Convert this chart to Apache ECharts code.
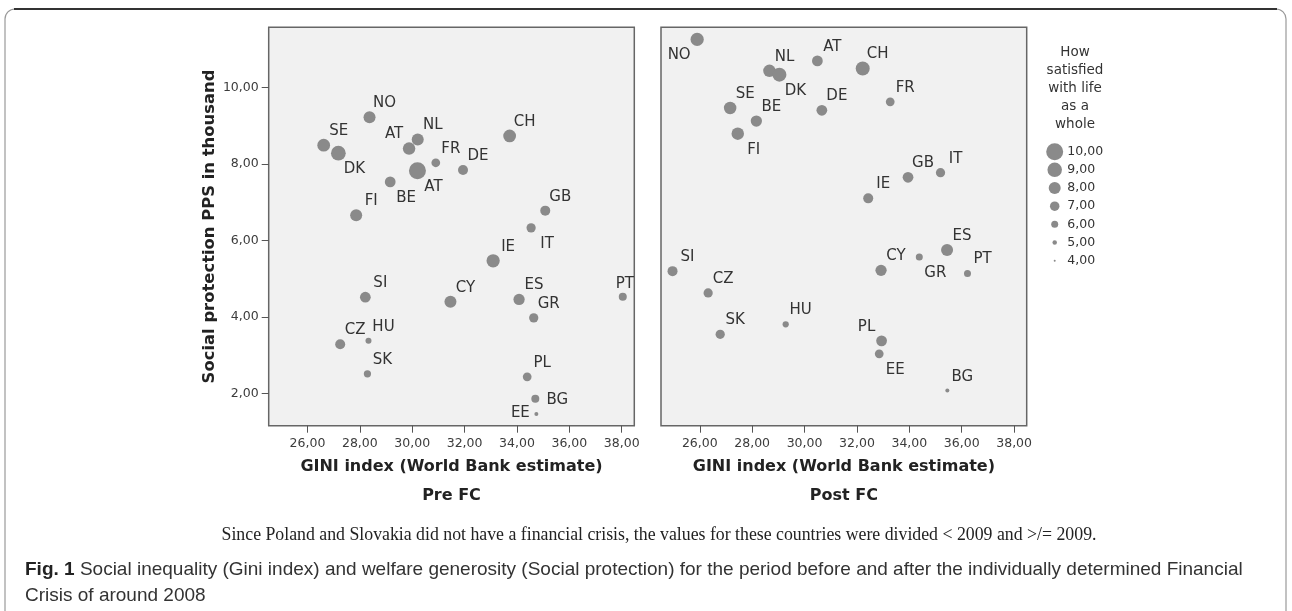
<!DOCTYPE html>
<html><head><meta charset="utf-8">
<script src="https://cdn.jsdelivr.net/npm/echarts@6/dist/echarts.min.js"></script>
<style>html,body{margin:0;padding:0;background:#fff}#c{width:1292px;height:611px}</style>
</head><body><div id="c"></div>
<script>
// ---------- DATA ----------
const countriesPre = ['NO','SE','DK','AT','NL','FR','DE','AT','BE','CH','FI','GB','IT','IE','SI','CY','ES','GR','CZ','HU','SK','PL','BG','EE','PT'];
const giniPre   = [28.37,26.62,27.18,29.88,30.21,30.90,31.94,30.20,29.16,33.72,27.86,35.08,34.54,33.09,28.21,31.46,34.08,34.64,27.25,28.33,28.29,34.39,34.70,34.74,38.04];
const socialPre = [9.22,8.49,8.28,8.40,8.64,8.03,7.84,7.82,7.53,8.73,6.66,6.78,6.33,5.47,4.52,4.40,4.46,3.98,3.29,3.38,2.52,2.44,1.87,1.47,4.53];
const lifePre   = [8.0,8.3,9.1,8.2,8.0,6.7,7.2,10.0,7.5,8.3,8.0,7.2,6.9,8.5,7.5,8.0,7.7,6.9,7.2,5.6,6.1,6.7,6.4,4.8,6.4];

const countriesPost = ['NO','NL','DK','AT','CH','FR','SE','BE','DE','FI','GB','IT','IE','ES','GR','CY','PT','SI','CZ','SK','HU','PL','EE','BG'];
const giniPost   = [25.90,28.66,29.04,30.49,32.22,33.27,27.16,28.16,30.66,27.45,33.95,35.19,32.43,35.44,34.38,32.92,36.22,24.96,26.32,26.78,29.28,32.94,32.85,35.45];
const socialPost = [11.25,10.43,10.33,10.69,10.49,9.62,9.46,9.12,9.40,8.79,7.65,7.77,7.10,5.75,5.57,5.22,5.14,5.20,4.63,3.55,3.81,3.38,3.04,2.08];
const lifePost   = [8.5,8.2,8.8,7.5,8.8,6.7,8.2,7.7,7.5,8.2,7.5,6.9,7.2,8.0,6.0,7.7,6.0,7.2,6.9,6.9,5.7,7.5,6.7,4.8];

const xTicks = [26,28,30,32,34,36,38];
const yTicks = [2,4,6,8,10];
const legendValues = [10,9,8,7,6,5,4];
const panelTitles = ['Pre FC','Post FC'];

// label placement (style, kept apart from data)
const labelPosPre  = ['tr','tr','br','tl','tr','tr','tr','br','br','tr','tr','tr','br','tr','tr','tr','tr','tr','tr','tr','tr','tr','r','l','t'];
const labelPosPost = ['bl','tr','br','tr','tr','tr','tr','tr','tr','br','tr','tr','tr','tr','br','tr','tr','tr','tr','tr','tr','tl','br','tr'];
const offsets = {tr:[15,-14], br:[16,16], tl:[-15,-14], bl:[-18,16], r:[22,1], l:[-16,-1], t:[2,-13]};

// ---------- HELPERS ----------
const fmt = v => v.toFixed(2).replace('.', ',');
const sizeOf = v => 2 + (v - 4) * 2.5;
const SANS = "'DejaVu Sans', sans-serif";
const DOT = '#8a8a8a';

function buildData(names, xs, ys, ls, pos) {
  return names.map((n, i) => ({
    value: [xs[i], ys[i], ls[i]],
    name: n,
    label: { offset: offsets[pos[i]] }
  }));
}

const grids = [
  {left: 268.7, top: 27.3, width: 365.6, height: 398.4},
  {left: 661,   top: 27.3, width: 365.7, height: 398.4}
];

const chart = echarts.init(document.getElementById('c'), null, {renderer: 'canvas'});

const xAxisCommon = (gi) => ({
  type: 'value', gridIndex: gi, min: 24.52, max: 38.48,
  axisLine: {show: false},
  axisTick: {show: true, length: 7, customValues: xTicks, lineStyle: {color: '#555', width: 1}},
  axisLabel: {customValues: xTicks, formatter: fmt, color: '#3c3c3c', fontFamily: SANS, fontSize: 12.5, margin: 12},
  splitLine: {show: false}
});

const pointLabel = {show: true, position: 'inside', formatter: p => p.name, color: '#333',
                    fontFamily: SANS, fontSize: 15, align: 'center', verticalAlign: 'middle'};

const option = {
  animation: false,
  backgroundColor: '#fff',
  grid: [
    Object.assign({show: true, backgroundColor: '#f1f1f1', borderColor: '#666', borderWidth: 1.5}, grids[0]),
    Object.assign({show: true, backgroundColor: '#f1f1f1', borderColor: '#666', borderWidth: 1.5}, grids[1]),
    {left: 1039.7, top: 142.6, width: 30, height: 127.2, show: false}
  ],
  xAxis: [
    xAxisCommon(0), xAxisCommon(1),
    {type: 'value', gridIndex: 2, min: 0, max: 1, show: false}
  ],
  yAxis: [
    {
      type: 'value', gridIndex: 0, min: 1.164, max: 11.567,
      axisLine: {show: false},
      axisTick: {show: true, length: 7, customValues: yTicks, lineStyle: {color: '#555', width: 1}},
      axisLabel: {customValues: yTicks, formatter: fmt, color: '#3c3c3c', fontFamily: SANS, fontSize: 12.5, margin: 10},
      splitLine: {show: false}
    },
    {
      type: 'value', gridIndex: 1, min: 1.164, max: 11.567,
      axisLine: {show: false}, axisTick: {show: false}, axisLabel: {show: false}, splitLine: {show: false}
    },
    {type: 'category', gridIndex: 2, data: legendValues.map(fmt), inverse: true, show: false}
  ],
  series: [
    {
      type: 'scatter', xAxisIndex: 0, yAxisIndex: 0,
      data: buildData(countriesPre, giniPre, socialPre, lifePre, labelPosPre),
      symbolSize: v => sizeOf(v[2]),
      itemStyle: {color: DOT, opacity: 1},
      label: pointLabel,
      emphasis: {disabled: true}
    },
    {
      type: 'scatter', xAxisIndex: 1, yAxisIndex: 1,
      data: buildData(countriesPost, giniPost, socialPost, lifePost, labelPosPost),
      symbolSize: v => sizeOf(v[2]),
      itemStyle: {color: DOT, opacity: 1},
      label: pointLabel,
      emphasis: {disabled: true}
    },
    {
      type: 'scatter', xAxisIndex: 2, yAxisIndex: 2,
      data: legendValues.map(v => [0.5, fmt(v), v]),
      symbolSize: v => sizeOf(v[2]),
      itemStyle: {color: DOT, opacity: 1},
      label: {show: true, position: 'inside', offset: [12.6, 0], formatter: p => fmt(p.value[2]),
              color: '#333', fontFamily: SANS, fontSize: 12.5, align: 'left', verticalAlign: 'middle'},
      emphasis: {disabled: true}
    }
  ],
  graphic: [
    // figure frame
    {type: 'rect', shape: {x: 5, y: 9, width: 1281, height: 640, r: 10}, style: {fill: 'none', stroke: '#9a9a9a', lineWidth: 1.2}, silent: true},
    {type: 'line', shape: {x1: 14, y1: 9, x2: 1277, y2: 9}, style: {stroke: '#333', lineWidth: 2}, silent: true},
    // y axis title
    {type: 'text', x: 210, y: 226.5, rotation: Math.PI / 2,
     style: {text: 'Social protection PPS in thousand', align: 'center', verticalAlign: 'middle',
             font: "bold 16.4px 'DejaVu Sans', sans-serif", fill: '#222'}},
    // x axis titles
    {type: 'text', x: 451.5, y: 467, style: {text: 'GINI index (World Bank estimate)', align: 'center', verticalAlign: 'middle', font: "bold 16px 'DejaVu Sans', sans-serif", fill: '#222'}},
    {type: 'text', x: 843.9, y: 467, style: {text: 'GINI index (World Bank estimate)', align: 'center', verticalAlign: 'middle', font: "bold 16px 'DejaVu Sans', sans-serif", fill: '#222'}},
    {type: 'text', x: 451.5, y: 496, style: {text: panelTitles[0], align: 'center', verticalAlign: 'middle', font: "bold 16px 'DejaVu Sans', sans-serif", fill: '#222'}},
    {type: 'text', x: 843.9, y: 496, style: {text: panelTitles[1], align: 'center', verticalAlign: 'middle', font: "bold 16px 'DejaVu Sans', sans-serif", fill: '#222'}},
    // legend title
    {type: 'text', x: 1075, y: 43, style: {text: 'How\nsatisfied\nwith life\nas a\nwhole', align: 'center', verticalAlign: 'top', lineHeight: 18, font: "13.5px 'DejaVu Sans', sans-serif", fill: '#333'}},
    // captions
    {type: 'text', x: 659, y: 535, style: {text: 'Since Poland and Slovakia did not have a financial crisis, the values for these countries were divided < 2009 and >/= 2009.', align: 'center', verticalAlign: 'middle', font: "17.8px 'Liberation Serif', serif", fill: '#222'}},
    {type: 'text', x: 25, y: 570, style: {
      text: '{b|Fig. 1} Social inequality (Gini index) and welfare generosity (Social protection) for the period before and after the individually determined Financial',
      align: 'left', verticalAlign: 'middle', font: "19px 'Liberation Sans', sans-serif", fill: '#333',
      rich: {b: {fontWeight: 'bold', fontFamily: "'Liberation Sans', sans-serif", fontSize: 19, fill: '#222'}}}},
    {type: 'text', x: 25, y: 595.5, style: {text: 'Crisis of around 2008', align: 'left', verticalAlign: 'middle', font: "19px 'Liberation Sans', sans-serif", fill: '#333'}}
  ]
};
chart.setOption(option);
</script>
</body></html>
